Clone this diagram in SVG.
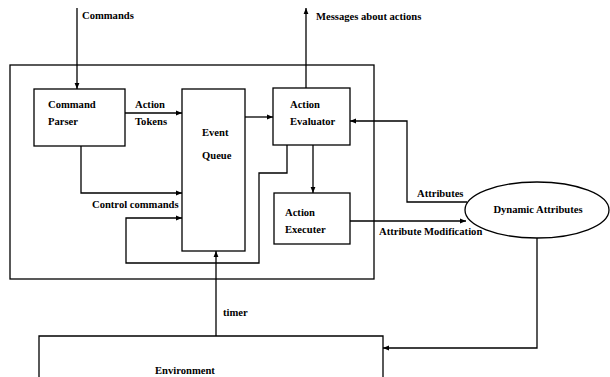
<svg xmlns="http://www.w3.org/2000/svg" width="610" height="377" viewBox="0 0 610 377">
<style>
.b{fill:#fff;stroke:#000;stroke-width:1.3}
.l{fill:none;stroke:#000;stroke-width:1.3}
text{font-family:"Liberation Serif","Times New Roman",serif;font-weight:bold;font-size:10.6px;fill:#000}
</style>
<defs>
<marker id="a" viewBox="0 0 10 10" refX="10" refY="5" markerWidth="6" markerHeight="6" orient="auto" markerUnits="userSpaceOnUse">
<path d="M0,1 L10,5 L0,9 z" fill="#000"/>
</marker>
</defs>
<rect class="b" x="10" y="65" width="364" height="214"/>
<g id="connectors">
<path class="l" d="M77,8 V89" marker-end="url(#a)"/>
<path class="l" d="M125,113 H182" marker-end="url(#a)"/>
<path class="l" d="M245,117 H273" marker-end="url(#a)"/>
<path class="l" d="M306,88 V8" marker-end="url(#a)"/>
<path class="l" d="M81,146 V193 H182" marker-end="url(#a)"/>
<path class="l" d="M287,145 V173 H259 V263 H126 V218 H182" marker-end="url(#a)"/>
<path class="l" d="M313,145 V193" marker-end="url(#a)"/>
<path class="l" d="M350,221 H466" marker-end="url(#a)"/>
<path class="l" d="M467,202 H407 V121 H350" marker-end="url(#a)"/>
<path class="l" d="M537,238 V348 H383" marker-end="url(#a)"/>
<path class="l" d="M216,336 V251" marker-end="url(#a)"/>
</g>
<text x="82" y="19">Commands</text>
<text x="316" y="20">Messages about actions</text>
<text x="135" y="108">Action</text>
<text x="135" y="125">Tokens</text>
<text x="92" y="208">Control commands</text>
<text x="417" y="197">Attributes</text>
<text x="379" y="235">Attribute Modification</text>
<text x="223" y="316">timer</text>
<g id="command-parser">
<rect class="b" x="34" y="89" width="91" height="57"/>
<text x="48" y="108">Command</text>
<text x="48" y="125">Parser</text>
</g>
<g id="event-queue">
<rect class="b" x="182" y="89" width="63" height="162"/>
<text x="202" y="136">Event</text>
<text x="202" y="159">Queue</text>
</g>
<g id="action-evaluator">
<rect class="b" x="273" y="88" width="77" height="57"/>
<text x="290" y="108">Action</text>
<text x="290" y="125">Evaluator</text>
</g>
<g id="action-executer">
<rect class="b" x="274" y="193" width="76" height="51"/>
<text x="285" y="216">Action</text>
<text x="285" y="233">Executer</text>
</g>
<g id="dynamic-attributes">
<ellipse class="b" cx="537" cy="210" rx="72" ry="28"/>
<text x="538" y="213" text-anchor="middle">Dynamic Attributes</text>
</g>
<g id="environment">
<path class="b" d="M39,380 V336 H383 V380"/>
<text x="155" y="374">Environment</text>
</g>
</svg>
